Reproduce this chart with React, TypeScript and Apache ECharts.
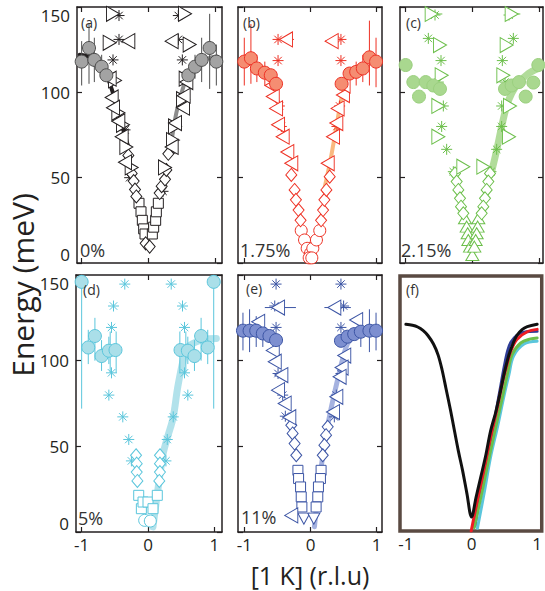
import React, { useEffect, useRef } from "react";
import * as echarts from "echarts";

// ---------------- data ----------------
const xTicks = [-1, 0, 1];

// panel (a) 0%
const aCircles = [[-1.0, 118], [-0.89, 126], [-0.81, 119], [-0.7, 115], [-0.63, 110], [0.6, 110], [0.7, 115], [0.8, 119], [0.92, 126], [1.02, 118]];
const aCircleErr = [[-1.0, 104, 130], [-0.89, 105, 140], [-0.81, 106, 132], [-0.7, 108, 122], [0.7, 108, 122], [0.8, 106, 132], [0.92, 102, 146], [1.02, 104, 128]];
const aLeftTri = [[-0.3, 130], [0.35, 130], [-0.58, 108], [-0.55, 97], [-0.53, 91], [-0.45, 83], [-0.4, 74], [-0.35, 59], [0.35, 68], [0.4, 82], [0.52, 91], [0.53, 98], [0.57, 106]];
const aRightTri = [[-0.53, 146], [0.55, 146], [-0.58, 129], [0.62, 128], [-0.5, 107], [-0.45, 88], [-0.38, 81], [-0.33, 68], [-0.25, 56], [0.25, 56], [0.37, 72], [0.4, 80], [0.52, 96], [0.56, 108]];
const aTriErr = [[-0.36, -0.2, 130], [0.28, 0.42, 130], [-0.6, -0.46, 146], [0.5, 0.62, 146]];
const aDiamonds = [[-0.3, 63], [-0.25, 52.5], [-0.22, 48], [-0.2, 43], [-0.18, 39], [-0.04, 11.5], [0.02, 9.6], [0.17, 41], [0.2, 45], [0.25, 49], [0.27, 54.5], [0.3, 64]];
const aSquares = [[-0.14, 35], [-0.11, 30], [-0.09, 25], [-0.07, 20], [-0.05, 17], [0.06, 17], [0.08, 21], [0.11, 25], [0.12, 30], [0.15, 35]];
const aStars = [[-0.44, 145], [0.45, 145], [-0.44, 131], [0.45, 131], [-0.53, 119], [0.51, 119], [-0.35, 78], [0.35, 66], [-0.28, 50], [0.22, 42]];
const aBandL = [[-1.03, 122], [-0.9, 121], [-0.78, 118], [-0.63, 110], [-0.55, 102], [-0.45, 88], [-0.3, 68]];
const aBandR = [[0.35, 72], [0.42, 88], [0.5, 100], [0.6, 110], [0.75, 116], [0.9, 120], [1.03, 121]];

// panel (b) 1.75%
const bCircles = [[-1.0, 118], [-0.9, 120], [-0.81, 114], [-0.69, 111.5], [-0.6, 110], [-0.52, 105], [0.47, 105], [0.59, 111], [0.69, 112], [0.79, 114], [0.89, 120.5], [0.99, 118]];
const bCircleErr = [[-1.0, 104, 132], [-0.9, 105, 140], [-0.81, 106, 122], [-0.69, 104, 118], [0.69, 104, 118], [0.79, 106, 122], [0.89, 104, 142], [0.99, 103, 132]];
const bHollowCircles = [[-0.14, 19], [-0.09, 13.5], [-0.05, 8.6], [0.0, 5.7], [0.035, 8.6], [0.09, 13.5], [0.14, 19], [-0.02, 3], [0.02, 3]];
const bLeftTri = [[-0.37, 131], [0.32, 130], [-0.59, 104], [-0.57, 97.5], [-0.52, 90.6], [-0.49, 81], [-0.42, 74], [-0.35, 65], [-0.29, 58.4], [0.26, 58.4], [0.34, 74], [0.39, 82], [0.41, 90.6], [0.49, 98.4], [0.5, 104]];
const bTriErr = [[-0.47, -0.25, 131], [0.22, 0.42, 130]];
const bDiamonds = [[-0.29, 51.6], [-0.24, 42.8], [-0.22, 37], [-0.18, 31], [-0.15, 25], [0.16, 25], [0.19, 31], [0.21, 37], [0.24, 42.8], [0.29, 50.6]];
const bStars = [[-0.49, 131], [0.46, 131], [-0.49, 118.6], [0.46, 118.6], [-0.47, 92], [0.44, 92], [-0.44, 80], [0.4, 80]];
const bBand = [[0.2, 42], [0.3, 60], [0.4, 82], [0.47, 97], [0.53, 106]];

// panel (c) 2.15%
const cCircles = [[-1.0, 116], [-0.885, 106], [-0.8, 97.5], [-0.7, 106], [-0.585, 104], [-0.485, 102], [0.49, 102], [0.59, 104], [0.7, 106], [0.8, 97.5], [0.915, 105.7], [0.99, 116]];
const cStars = [[-0.56, 145.3], [0.55, 145.3], [-0.66, 131.6], [0.615, 131.6], [-0.47, 118.6], [0.45, 118.6], [-0.51, 106], [0.49, 106], [-0.435, 92], [0.44, 92], [-0.46, 80], [0.44, 80], [-0.385, 66.6], [0.365, 66.6], [-0.285, 53.5], [0.28, 53.5]];
const cRightTri = [[-0.61, 145.9], [0.59, 145.9], [-0.485, 127.7], [0.515, 127.7], [-0.46, 110], [0.465, 110], [-0.51, 92], [0.565, 92], [-0.51, 74], [0.55, 74], [-0.135, 56.4], [0.165, 56.4]];
const cTriErr = [[-0.68, -0.45, 145.9], [0.52, 0.72, 145.9]];
const cDiamonds = [[-0.26, 52.5], [-0.235, 47.7], [-0.21, 42.8], [-0.185, 37.9], [-0.17, 33], [-0.135, 29.1], [0.265, 52.5], [0.24, 47.7], [0.215, 42.8], [0.19, 37.9], [0.165, 33], [0.14, 29.1]];
const cUpTri = [[-0.11, 26.2], [-0.085, 21.3], [-0.07, 17.4], [-0.06, 13.5], [-0.035, 9.6], [0.0, 4.7], [0.09, 26.2], [0.08, 21.3], [0.065, 17.4], [0.05, 13.5], [0.03, 9.6]];
const cBand = [[0.29, 53.5], [0.365, 66], [0.44, 80], [0.515, 92], [0.59, 99.4], [0.69, 105.3], [0.84, 111], [0.99, 114]];

// panel (d) 5%
const dCircles = [[-1.0, 146], [-0.9, 107.7], [-0.8, 114.4], [-0.7, 102.7], [-0.59, 105.8], [-0.49, 106.2], [0.49, 106.2], [0.6, 105.8], [0.7, 102.7], [0.8, 114.4], [0.9, 107.7], [0.99, 146]];
const dCircleErr = [[-1.0, 72, 150], [0.99, 72, 150], [-0.9, 98, 118], [-0.8, 100, 125], [-0.7, 94, 112], [-0.59, 98, 114], [0.6, 98, 114], [0.7, 94, 112], [0.8, 100, 125], [0.9, 98, 118]];
const dStarErr = [[-0.57, 93, 117], [-0.48, 93, 117], [0.48, 93, 117], [0.57, 93, 117]];
const dStars = [[-0.35, 144.7], [0.35, 144.7], [-0.52, 131.9], [0.52, 131.9], [-0.55, 119.4], [0.55, 119.4], [-0.55, 92.9], [0.55, 92.9], [-0.59, 79.9], [0.6, 79.9], [-0.38, 67.2], [0.38, 67.2], [-0.29, 54], [0.29, 54], [-0.25, 41.5], [0.27, 41.5]];
const dDiamonds = [[-0.18, 44.8], [-0.17, 39.9], [-0.17, 35], [-0.16, 29.8], [0.18, 44.8], [0.18, 39.9], [0.18, 35], [0.17, 29.8]];
const dSquares = [[-0.14, 21.4], [-0.1, 13.6], [-0.075, 17.5], [0.0, 17.5], [0.075, 13.6], [0.14, 21.4]];
const dHollowCircles = [[-0.05, 6.8], [0.035, 6.4]];
const dBand = [[0.075, 3], [0.15, 25], [0.23, 46], [0.3, 56], [0.38, 67], [0.45, 85], [0.54, 102], [0.6, 108], [0.73, 111], [0.85, 112.5], [1.03, 113]];

// panel (e) 11%
const eCircles = [[-1.02, 117.5], [-0.92, 117.5], [-0.82, 117.5], [-0.72, 115.9], [-0.62, 114.4], [-0.52, 112], [0.46, 111.6], [0.56, 114], [0.66, 115.5], [0.76, 116.9], [0.89, 117.5], [0.99, 117.5]];
const eCircleErr = [[-1.02, 106, 128], [-0.92, 105, 130], [-0.82, 108, 126], [-0.72, 108, 124], [0.76, 108, 126], [0.89, 105, 130], [0.99, 106, 128]];
const eStars = [[-0.52, 144.7], [0.46, 144.7], [-0.54, 131.9], [0.5, 131.9], [-0.52, 119.4], [0.46, 119.4], [-0.49, 92.5], [0.46, 92.5], [-0.42, 79.9], [0.39, 79.9], [-0.38, 67.6], [0.36, 67.2]];
const eLeftTri = [[-0.49, 131], [0.36, 131], [-0.79, 122.7], [0.69, 123.7], [-0.57, 106], [-0.54, 99.4], [-0.44, 91.6], [-0.49, 82.8], [-0.39, 75], [-0.32, 67], [0.51, 103], [0.47, 96], [0.44, 90.6], [0.39, 78.9], [0.34, 70], [-0.29, 9.7]];
const eTriErr = [[-0.69, -0.22, 131], [0.21, 0.61, 131]];
const eDiamonds = [[-0.29, 62.3], [-0.27, 57.5], [-0.24, 51.6], [-0.215, 44.8], [0.26, 61.4], [0.235, 56.5], [0.21, 50.7], [0.185, 44.8]];
const eSquares = [[-0.19, 36], [-0.18, 31.2], [-0.15, 26.3], [-0.14, 20.5], [-0.13, 14.6], [0.16, 36], [0.15, 31.2], [0.12, 26.3], [0.11, 20.5], [0.085, 14.6]];
const eDownTri = [[-0.1, 7.8], [0.05, 7.8]];
const eBand = [[0.06, 3], [0.12, 25], [0.21, 51], [0.3, 70], [0.41, 89], [0.5, 103], [0.56, 110], [0.65, 114]];

// panel (f) fitted dispersions
const fBlack = [[-1.0, 121.6], [-0.9, 121], [-0.82, 120], [-0.74, 118], [-0.665, 115], [-0.58, 110], [-0.51, 103.6], [-0.45, 95], [-0.39, 84], [-0.32, 71], [-0.26, 59], [-0.2, 47], [-0.136, 35.5], [-0.07, 22], [0.0, 8.2], [0.07, 20], [0.14, 31.6], [0.22, 45], [0.29, 58.8], [0.37, 70], [0.44, 82], [0.5, 93], [0.57, 103.6], [0.63, 110], [0.69, 115], [0.77, 118.5], [0.85, 120.2], [1.0, 121.6]];
const fRed = [[-0.005, 0], [0.1, 20], [0.19, 36], [0.29, 55], [0.39, 72], [0.47, 87], [0.54, 98], [0.6, 106], [0.69, 112.7], [0.85, 117.2], [1.0, 118.6]];
const fBlue = [[0.05, 3], [0.15, 25], [0.3, 55], [0.42, 80], [0.5, 97], [0.55, 106], [0.6, 111], [0.69, 115.1], [0.8, 117], [1.0, 117.5]];
const fGreen = [[0.04, 2], [0.17, 25], [0.29, 47.3], [0.38, 63], [0.47, 78.6], [0.55, 93], [0.62, 103.9], [0.75, 110.6], [0.9, 113], [1.0, 113.6]];
const fCyan = [[0.09, 1.6], [0.2, 24], [0.29, 43.4], [0.4, 62], [0.49, 78.6], [0.57, 92], [0.64, 102.9], [0.8, 110], [1.0, 111.6]];

const panelTags = ["(a)", "(b)", "(c)", "(d)", "(e)", "(f)"];
const dopings = ["0%", "1.75%", "2.15%", "5%", "11%"];

// ---------------- layout & style ----------------
const INK = "#231f20";
const FONT = "'Open Sans', 'Noto Sans', sans-serif";
const BROWN = "#5a4a42";

const layout = [
  { left: 77, top: 7, width: 145, height: 256, xMin: -1.07, xMax: 1.105, yLab: true, xLab: false },
  { left: 238, top: 7, width: 144, height: 256, xMin: -1.095, xMax: 1.08, yLab: false, xLab: false },
  { left: 400, top: 7, width: 143, height: 256, xMin: -1.085, xMax: 1.06, yLab: false, xLab: false },
  { left: 76, top: 275, width: 146, height: 257, xMin: -1.085, xMax: 1.115, yLab: true, xLab: true },
  { left: 238, top: 275, width: 144, height: 257, xMin: -1.095, xMax: 1.08, yLab: false, xLab: true },
  { left: 400, top: 276, width: 143, height: 255, xMin: -1.09, xMax: 1.07, yLab: false, xLab: true, brown: true },
];
const tagPos = [[81, 22], [243, 22], [406, 22], [83, 289], [246, 288], [406, 289]];
const dopPos = [[80, 250], [240, 250], [401, 250], [78, 518], [241, 517]];

const LEFT_TRI = "path://M0,5L10,0L10,10Z";
const RIGHT_TRI = "path://M10,5L0,0L0,10Z";
const DOWN_TRI = "path://M0,0L10,0L5,10Z";
const STAR = "path://M0,5L10,5M5,0L5,10M1.6,1.6L8.4,8.4M1.6,8.4L8.4,1.6";

function sc(i: number, data: number[][], symbol: string, size: any, fill: string, stroke: string, lw = 1) {
  return {
    type: "scatter", xAxisIndex: 2 * i, yAxisIndex: 2 * i, data, symbol, symbolSize: size,
    itemStyle: { color: fill, borderColor: stroke, borderWidth: lw, opacity: 1 },
    silent: true, clip: false, z: 3,
  };
}
function errV(i: number, data: number[][], color: string, lw = 1) {
  return {
    type: "custom", xAxisIndex: 2 * i, yAxisIndex: 2 * i, data, silent: true, z: 2,
    encode: { x: 0, y: [1, 2] },
    renderItem: (_p: any, api: any) => {
      const a = api.coord([api.value(0), api.value(1)]);
      const b = api.coord([api.value(0), api.value(2)]);
      return { type: "line", shape: { x1: a[0], y1: a[1], x2: b[0], y2: b[1] }, style: { stroke: color, lineWidth: lw } };
    },
  };
}
function errH(i: number, data: number[][], color: string, lw = 1) {
  return {
    type: "custom", xAxisIndex: 2 * i, yAxisIndex: 2 * i, data, silent: true, z: 2,
    encode: { x: [0, 1], y: 2 },
    renderItem: (_p: any, api: any) => {
      const a = api.coord([api.value(0), api.value(2)]);
      const b = api.coord([api.value(1), api.value(2)]);
      return { type: "line", shape: { x1: a[0], y1: a[1], x2: b[0], y2: b[1] }, style: { stroke: color, lineWidth: lw } };
    },
  };
}
function line(i: number, data: number[][], color: string, width: number, opacity = 1, z = 1) {
  return {
    type: "line", xAxisIndex: 2 * i, yAxisIndex: 2 * i, data, symbol: "none", smooth: 0.35,
    lineStyle: { color, width, opacity, cap: "round" }, silent: true, z,
  };
}

const col = {
  a: { ink: INK, fill: "#a3a3a3", edge: "#4d4d4d" },
  b: { ink: "#ee3124", fill: "#f58d72", edge: "#ee3124" },
  c: { ink: "#6cbf4b", fill: "#a9d88f", edge: "#9bd07f" },
  d: { ink: "#5bc6dc", fill: "#aadfe9", edge: "#5bc6dc" },
  e: { ink: "#3c55a5", fill: "#7d8fd0", edge: "#3c55a5" },
};

function buildOption() {
  const grid: any[] = [];
  const xAxis: any[] = [];
  const yAxis: any[] = [];
  layout.forEach((L, i) => {
    grid.push({
      left: L.left, top: L.top, width: L.width, height: L.height, containLabel: false,
      show: !!L.brown, borderColor: BROWN, borderWidth: 3.5, backgroundColor: "transparent",
    });
    const axLine = { show: !L.brown, onZero: false, lineStyle: { color: INK, width: 1.5 } };
    const tick = { show: !L.brown, inside: true, length: 5, lineStyle: { color: INK, width: 1.2 } };
    const lab = { fontSize: 17, fontFamily: FONT, color: INK };
    xAxis.push({
      type: "value", gridIndex: i, position: "bottom", min: L.xMin, max: L.xMax,
      axisLine: axLine, axisTick: { ...tick, customValues: xTicks },
      axisLabel: { ...lab, show: L.xLab, customValues: xTicks, margin: 4 },
      splitLine: { show: false },
    });
    xAxis.push({
      type: "value", gridIndex: i, position: "top", min: L.xMin, max: L.xMax,
      axisLine: axLine, axisTick: { ...tick, customValues: xTicks },
      axisLabel: { show: false, customValues: xTicks }, splitLine: { show: false },
    });
    yAxis.push({
      type: "value", gridIndex: i, position: "left", min: 0, max: 150, interval: 50,
      axisLine: axLine, axisTick: tick,
      axisLabel: { ...lab, show: L.yLab, margin: 7, verticalAlignMinLabel: "bottom", verticalAlignMaxLabel: "top" },
      splitLine: { show: false },
    });
    yAxis.push({
      type: "value", gridIndex: i, position: "right", min: 0, max: 150, interval: 50,
      axisLine: axLine, axisTick: tick, axisLabel: { show: false }, splitLine: { show: false },
    });
  });

  const CIRC = 13, TRI = [13, 15], DIA = [11, 13], SQ = 10, ST = 11;
  const series: any[] = [
    // (a)
    line(0, aBandL, "#231f20", 4, 1),
    line(0, aBandR, "#8c8c8c", 4, 1),
    errV(0, aCircleErr, col.a.edge, 1),
    errH(0, aTriErr, col.a.ink, 1),
    sc(0, aStars, STAR, ST, "none", col.a.ink, 1),
    sc(0, aSquares, "rect", SQ, "#fff", col.a.ink, 1),
    sc(0, aDiamonds, "diamond", DIA, "#fff", col.a.ink, 1),
    sc(0, aRightTri, RIGHT_TRI, TRI, "#fff", col.a.ink, 1),
    sc(0, aLeftTri, LEFT_TRI, TRI, "#fff", col.a.ink, 1),
    sc(0, aCircles, "circle", CIRC, col.a.fill, col.a.edge, 1),
    // (b)
    line(1, bBand, "#f7a860", 4, 0.8),
    errV(1, bCircleErr, col.b.ink, 1),
    errH(1, bTriErr, col.b.ink, 1),
    sc(1, bStars, STAR, ST, "none", col.b.ink, 1),
    sc(1, bHollowCircles, "circle", 12, "#fff", col.b.ink, 1),
    sc(1, bDiamonds, "diamond", DIA, "#fff", col.b.ink, 1),
    sc(1, bLeftTri, LEFT_TRI, TRI, "#fff", col.b.ink, 1),
    sc(1, bCircles, "circle", CIRC, col.b.fill, col.b.edge, 1),
    // (c)
    line(2, cBand, col.c.fill, 7, 0.9),
    errH(2, cTriErr, col.c.ink, 1),
    sc(2, cStars, STAR, ST, "none", col.c.ink, 1),
    sc(2, cUpTri, "triangle", [13, 11], "#fff", col.c.ink, 1),
    sc(2, cDiamonds, "diamond", DIA, "#fff", col.c.ink, 1),
    sc(2, cRightTri, RIGHT_TRI, TRI, "#fff", col.c.ink, 1),
    sc(2, cCircles, "circle", CIRC, col.c.fill, col.c.edge, 1),
    // (d)
    line(3, dBand, col.d.fill, 7, 0.9),
    errV(3, dCircleErr, col.d.ink, 1),
    errV(3, dStarErr, col.d.ink, 1),
    sc(3, dStars, STAR, ST, "none", col.d.ink, 1),
    sc(3, dDiamonds, "diamond", DIA, "#fff", col.d.ink, 1),
    sc(3, dSquares, "rect", SQ, "#fff", col.d.ink, 1),
    sc(3, dHollowCircles, "circle", 12, "#fff", col.d.ink, 1),
    sc(3, dCircles, "circle", CIRC, col.d.fill, col.d.edge, 1),
    // (e)
    line(4, eBand, "#8f9fd8", 5, 0.8),
    errV(4, eCircleErr, col.e.ink, 1),
    errH(4, eTriErr, col.e.ink, 1),
    sc(4, eStars, STAR, ST, "none", col.e.ink, 1),
    sc(4, eSquares, "rect", SQ, "#fff", col.e.ink, 1),
    sc(4, eDiamonds, "diamond", DIA, "#fff", col.e.ink, 1),
    sc(4, eDownTri, DOWN_TRI, [12, 11], "#fff", col.e.ink, 1),
    sc(4, eLeftTri, LEFT_TRI, TRI, "#fff", col.e.ink, 1),
    sc(4, eCircles, "circle", CIRC, col.e.fill, col.e.edge, 1),
    // (f)
    line(5, fCyan, "#5bc6dc", 3, 1, 2),
    line(5, fBlue, "#2e3d96", 3, 1, 2),
    line(5, fGreen, "#6cbf4b", 3, 1, 2),
    line(5, fRed, "#ee1c24", 3, 1, 2),
    line(5, fBlack, "#111111", 3, 1, 2),
  ];

  const graphic: any[] = [];
  panelTags.forEach((t, i) => {
    graphic.push({
      type: "text", x: tagPos[i][0], y: tagPos[i][1], silent: true, z: 10,
      style: { text: t, fontSize: 14, fontFamily: FONT, fill: "#333", align: "left", verticalAlign: "middle" },
    });
  });
  dopings.forEach((t, i) => {
    graphic.push({
      type: "text", x: dopPos[i][0], y: dopPos[i][1], silent: true, z: 10,
      style: { text: t, fontSize: 18, fontFamily: FONT, fill: "#333", align: "left", verticalAlign: "middle" },
    });
  });
  graphic.push({
    type: "text", x: 22, y: 285, rotation: Math.PI / 2, silent: true,
    style: { text: "Energy (meV)", fontSize: 30, fontFamily: FONT, fill: INK, align: "center", verticalAlign: "middle" },
  });
  graphic.push({
    type: "text", x: 310, y: 575, silent: true,
    style: { text: "[1 K] (r.l.u)", fontSize: 25, fontFamily: FONT, fill: INK, align: "center", verticalAlign: "middle" },
  });

  return { animation: false, backgroundColor: "#ffffff", grid, xAxis, yAxis, series, graphic };
}

export default function App() {
  const ref = useRef<HTMLDivElement>(null);
  useEffect(() => {
    document.body.style.margin = "0";
    const chart = echarts.init(ref.current!, undefined, { renderer: "svg" });
    chart.setOption(buildOption() as any);
    return () => chart.dispose();
  }, []);
  return <div ref={ref} style={{ width: 545, height: 591 }} />;
}
